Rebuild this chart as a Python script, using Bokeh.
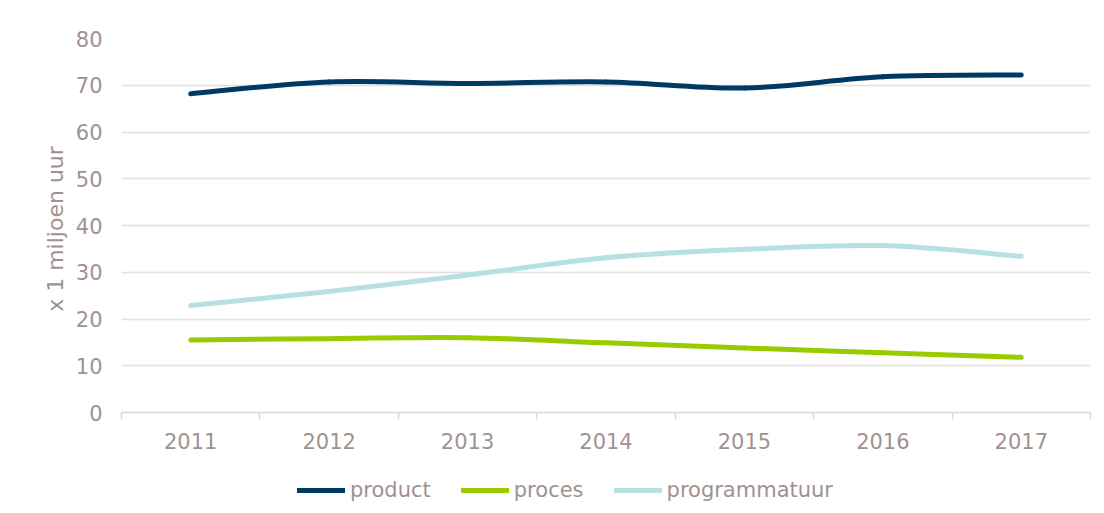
from bokeh.plotting import figure
from bokeh.layouts import column
from bokeh.models import Range1d, FixedTicker, Legend, LegendItem, ColumnDataSource
from bokeh.embed import file_html
from bokeh.resources import INLINE

years = ["2011", "2012", "2013", "2014", "2015", "2016", "2017"]
product = [68.2, 70.7, 70.4, 70.7, 69.4, 71.8, 72.2]
proces = [15.5, 15.8, 16.0, 14.9, 13.8, 12.8, 11.8]
programmatuur = [22.9, 25.9, 29.4, 33.1, 34.9, 35.7, 33.4]
yticks = [0, 10, 20, 30, 40, 50, 60, 70, 80]

series = [("product", product, "#003a63"),
          ("proces", proces, "#99cc00"),
          ("programmatuur", programmatuur, "#b7e0e3")]

TXT = "#9f9290"
FONT = "DejaVu Sans"

p = figure(width=1094, height=459, output_backend="svg", toolbar_location=None,
           x_range=Range1d(-0.5, len(years) - 0.5), y_range=Range1d(0, 80),
           min_border_left=121, min_border_top=38, min_border_right=4, min_border_bottom=47)
p.outline_line_color = None
p.background_fill_color = "white"
p.border_fill_color = "white"

# y axis
p.yaxis.ticker = FixedTicker(ticks=yticks)
p.yaxis.axis_line_color = None
p.yaxis.major_tick_line_color = None
p.yaxis.minor_tick_line_color = None
p.yaxis.major_label_standoff = 13
p.yaxis.major_label_text_font = FONT
p.yaxis.major_label_text_font_size = "21px"
p.yaxis.major_label_text_color = TXT
p.yaxis.axis_label = "x 1 miljoen  uur"
p.yaxis.axis_label_text_font = FONT
p.yaxis.axis_label_text_font_size = "22px"
p.yaxis.axis_label_text_font_style = "normal"
p.yaxis.axis_label_text_color = TXT
p.yaxis.axis_label_standoff = 5

p.ygrid.ticker = FixedTicker(ticks=yticks[1:])
p.ygrid.grid_line_color = "#e4dfdf"
p.ygrid.grid_line_width = 1.5
p.xgrid.grid_line_color = None

# x axis
n = len(years)
p.xaxis.ticker = FixedTicker(ticks=list(range(n)), minor_ticks=[i - 0.5 for i in range(n + 1)])
p.xaxis.major_label_overrides = {i: y for i, y in enumerate(years)}
p.xaxis.axis_line_color = "#dcd8d8"
p.xaxis.axis_line_width = 1.5
p.xaxis.major_tick_line_color = None
p.xaxis.minor_tick_line_color = "#dcd8d8"
p.xaxis.minor_tick_line_width = 1.5
p.xaxis.minor_tick_in = 0
p.xaxis.minor_tick_out = 7
p.xaxis.major_label_standoff = 13
p.xaxis.major_label_text_font = FONT
p.xaxis.major_label_text_font_size = "21px"
p.xaxis.major_label_text_color = TXT


def bezier_source(ys):
    xs = list(range(len(ys)))
    d = dict(x0=[], y0=[], x1=[], y1=[], cx0=[], cy0=[], cx1=[], cy1=[])
    m = len(ys)
    for i in range(m - 1):
        pr = max(i - 1, 0)
        nx = min(i + 2, m - 1)
        d["x0"].append(xs[i]); d["y0"].append(ys[i])
        d["x1"].append(xs[i + 1]); d["y1"].append(ys[i + 1])
        d["cx0"].append(xs[i] + (xs[i + 1] - xs[pr]) / 6)
        d["cy0"].append(ys[i] + (ys[i + 1] - ys[pr]) / 6)
        d["cx1"].append(xs[i + 1] - (xs[nx] - xs[i]) / 6)
        d["cy1"].append(ys[i + 1] - (ys[nx] - ys[i]) / 6)
    return ColumnDataSource(d)


for name, vals, col in series:
    p.bezier(x0="x0", y0="y0", x1="x1", y1="y1", cx0="cx0", cy0="cy0",
             cx1="cx1", cy1="cy1", source=bezier_source(vals),
             line_color=col, line_width=5, line_cap="round")

# legend strip below the chart (series lines lie outside this strip's y range)
p2 = figure(width=1094, height=45, output_backend="svg", toolbar_location=None,
            x_axis_type=None, y_axis_type=None,
            x_range=Range1d(-0.5, n - 0.5), y_range=Range1d(-200, -100),
            min_border_left=0, min_border_right=0, min_border_top=0, min_border_bottom=0)
p2.outline_line_color = None
p2.xgrid.grid_line_color = None
p2.ygrid.grid_line_color = None

items = []
for name, vals, col in series:
    r = p2.line(x=list(range(n)), y=vals, line_color=col, line_width=5, line_cap="round")
    items.append(LegendItem(label=name, renderers=[r]))

legend = Legend(items=items, orientation="horizontal", location=(176, 2),
                glyph_width=48, glyph_height=20, label_standoff=5, spacing=30,
                padding=0, margin=0, border_line_alpha=0, background_fill_alpha=0,
                label_text_font=FONT, label_text_font_size="21px", label_text_color=TXT)
p2.add_layout(legend, "center")

layout = column(p, p2, spacing=0)
open("out.html", "w").write(file_html(layout, INLINE))
